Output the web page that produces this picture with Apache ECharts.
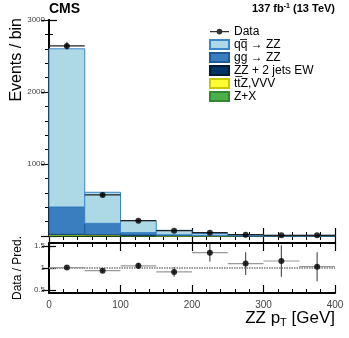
<!DOCTYPE html>
<html>
<head>
<meta charset="utf-8">
<script src="https://cdn.jsdelivr.net/npm/echarts@6/dist/echarts.min.js"></script>
<style>
  html, body { margin: 0; padding: 0; background: #fff; }
  #chart { width: 349px; height: 338px; }
</style>
</head>
<body>
<div id="chart"></div>
<script>
// bins of ZZ pT [GeV]
const binLo = [0, 50, 100, 150, 200, 250, 300, 350]
const binHi = [50, 100, 150, 200, 250, 300, 350, 400]

// expected events per bin, one array per process (bottom of stack first)
const zx     = [14, 11, 5, 2, 1, 0.5, 0.3, 0.2]
const ttzvvv = [6, 5, 4, 3, 2, 1, 0.6, 0.5]
const zzjjEW = [5, 5, 4, 3, 2, 1.5, 1, 1]
const ggZZ   = [378, 155, 34, 9, 4, 1.5, 0.7, 0.5]
const qqZZ   = [2197, 431, 166, 62, 25, 12, 6, 7.5]

// observed data
const dataCounts = [2640, 570, 213, 74, 46, 18, 10, 10]
const dataErr    = [51, 24, 15, 9, 7, 4, 3, 3]

// ratio panel
const ratioVals = [1.01, 0.94, 1.05, 0.91, 1.35, 1.10, 1.16, 1.03]
const ratioErr  = [0.02, 0.04, 0.07, 0.11, 0.20, 0.26, 0.36, 0.33]

const ratioTicks = [0.5, 1, 1.5]

const procs = [
  { name: 'Z+X',                 vals: zx,     color: '#4daf4a', border: '#2f8a2d' },
  { name: 'tt\u0305Z,VVV',       vals: ttzvvv, color: '#ffff33', border: '#c9c900' },
  { name: 'ZZ + 2 jets EW',      vals: zzjjEW, color: '#003366', border: '#001a33' },
  { name: 'gg \u2192 ZZ',        vals: ggZZ,   color: '#3a7ebf', border: '#1d5a96' },
  { name: 'qq\u0305 \u2192 ZZ',  vals: qqZZ,   color: '#add8e6', border: '#3d87c9' }
]

const font = 'Liberation Sans, Arial, Helvetica, sans-serif'
const chart = echarts.init(document.getElementById('chart'))

// stacked histogram rows: [lo, hi, bottom, top]
const cum = binLo.map(() => 0)
const stackSeries = procs.map(p => {
  const rows = binLo.map((lo, i) => {
    const b = cum[i]
    cum[i] += p.vals[i]
    return [lo, binHi[i], b, cum[i]]
  })
  return {
    name: p.name, type: 'custom', xAxisIndex: 0, yAxisIndex: 0,
    itemStyle: { color: p.color, borderColor: p.border, borderWidth: 1 },
    renderItem(params, api) {
      const a = api.coord([api.value(0), api.value(3)])
      const b = api.coord([api.value(1), api.value(2)])
      return {
        type: 'rect',
        shape: { x: a[0], y: a[1], width: b[0] - a[0], height: b[1] - a[1] },
        style: { fill: p.color, stroke: p.border, lineWidth: 1 }
      }
    },
    data: rows, z: 2
  }
})

function errBars(xi, yi, xs, ys, ex, ey, hColor, vColor) {
  return {
    type: 'custom', xAxisIndex: xi, yAxisIndex: yi, silent: true, z: 4,
    renderItem(params, api) {
      const x = api.value(0), y = api.value(1), dx = api.value(2), dy = api.value(3)
      const l = api.coord([x - dx, y]), r = api.coord([x + dx, y])
      const t = api.coord([x, y + dy]), b = api.coord([x, y - dy])
      return {
        type: 'group',
        children: [
          { type: 'line', shape: { x1: l[0], y1: l[1], x2: r[0], y2: r[1] }, style: { stroke: hColor, lineWidth: 1.2 } },
          { type: 'line', shape: { x1: t[0], y1: t[1], x2: b[0], y2: b[1] }, style: { stroke: vColor, lineWidth: 1.2 } }
        ]
      }
    },
    data: xs.map((x, i) => [x, ys[i], ex[i], ey[i]])
  }
}

const centers = binLo.map((lo, i) => (lo + binHi[i]) / 2)
const halfW = binLo.map((lo, i) => (binHi[i] - lo) / 2)

const axisLine = { show: true, lineStyle: { color: '#000', width: 2 } }
const tick = { show: true, inside: true, length: 8, lineStyle: { color: '#000', width: 1.2 } }
const minor = { show: true, splitNumber: 5, length: 4, lineStyle: { color: '#000', width: 1 } }

function xAx(grid, pos, labels) {
  return {
    type: 'value', gridIndex: grid, position: pos, min: 0, max: 400, interval: 100,
    axisLine, splitLine: { show: false }, axisTick: tick, minorTick: minor,
    axisLabel: { show: labels, color: '#444', fontSize: 10, fontFamily: font, margin: 7 }
  }
}

// legend marker for data: line with a filled dot (tiny corner specks fix the box to 20x9)
const dataIcon = 'path://M0,0h0.01v0.01h-0.01z M0,8.99h0.01v0.01h-0.01z M0,4h20v1.2h-20z M10,1.6a3,3 0 1,1 -0.001,0z'

chart.setOption({
  animation: false,
  grid: [
    { left: 49, top: 20, width: 286, height: 216 },
    { left: 49, top: 243, width: 286, height: 50 }
  ],
  legend: {
    orient: 'vertical', left: 209, top: 25, padding: 0, itemGap: 0,
    itemWidth: 19, itemHeight: 9,
    textStyle: { fontSize: 12, fontFamily: font, color: '#000', lineHeight: 13 },
    data: [
      { name: 'Data', icon: dataIcon },
      { name: procs[4].name, icon: 'rect' },
      { name: procs[3].name, icon: 'rect' },
      { name: procs[2].name, icon: 'rect' },
      { name: procs[1].name, icon: 'rect' },
      { name: procs[0].name, icon: 'rect' }
    ]
  },
  xAxis: [
    xAx(0, 'bottom', false), xAx(0, 'top', false),
    xAx(1, 'bottom', true), xAx(1, 'top', false)
  ],
  yAxis: [
    {
      type: 'value', gridIndex: 0, position: 'left', min: 0, max: 3000, interval: 1000,
      axisLine, splitLine: { show: false }, axisTick: tick, minorTick: minor,
      axisLabel: { showMinLabel: false, color: '#444', fontSize: 8, fontFamily: font, margin: 4, formatter: v => String(v) }
    },
    {
      type: 'value', gridIndex: 0, position: 'right', min: 0, max: 3000, interval: 1000,
      axisLine, splitLine: { show: false }, axisTick: tick, minorTick: minor,
      axisLabel: { show: false }
    },
    {
      type: 'value', gridIndex: 1, position: 'left', min: 0.43, max: 1.57,
      axisLine, splitLine: { show: false },
      axisTick: { show: true, inside: true, length: 7, customValues: ratioTicks, lineStyle: { color: '#000', width: 1.2 } },
      axisLabel: { customValues: ratioTicks, color: '#444', fontSize: 8, fontFamily: font, margin: 4, formatter: v => String(v) }
    },
    {
      type: 'value', gridIndex: 1, position: 'right', min: 0.43, max: 1.57,
      axisLine, splitLine: { show: false },
      axisTick: { show: true, inside: true, length: 7, customValues: ratioTicks, lineStyle: { color: '#000', width: 1.2 } },
      axisLabel: { show: false }
    }
  ],
  series: [
    ...stackSeries,
    errBars(0, 0, centers, dataCounts, halfW, dataErr, '#222', '#222'),
    {
      name: 'Data', type: 'scatter', xAxisIndex: 0, yAxisIndex: 0, z: 5,
      symbol: 'circle', symbolSize: 6, itemStyle: { color: '#000' },
      data: centers.map((x, i) => [x, dataCounts[i]])
    },
    {
      type: 'line', xAxisIndex: 2, yAxisIndex: 2, symbol: 'none', silent: true, z: 3,
      lineStyle: { color: '#999', width: 2, type: [1.5, 1] },
      data: [[0, 1], [400, 1]]
    },
    errBars(2, 2, centers, ratioVals, halfW, ratioErr, '#999', '#555'),
    {
      type: 'scatter', xAxisIndex: 2, yAxisIndex: 2, z: 5,
      symbol: 'circle', symbolSize: 6, itemStyle: { color: '#000' },
      data: centers.map((x, i) => [x, ratioVals[i]])
    }
  ],
  graphic: [
    { type: 'text', left: 49, top: 2, style: { text: 'CMS', font: 'bold 14px ' + font, fill: '#000' } },
    {
      type: 'text', right: 14, top: 3,
      style: {
        text: '137 fb{sup|-1} (13 TeV)', font: 'bold 11px ' + font, fill: '#000',
        rich: { sup: { font: 'bold 7px ' + font, verticalAlign: 'top', padding: [0, 0, 5, 0] } }
      }
    },
    {
      type: 'text', x: 17, y: 18, rotation: Math.PI / 2,
      style: { text: 'Events / bin', font: '16px ' + font, fill: '#000', align: 'right', verticalAlign: 'middle' }
    },
    {
      type: 'text', x: 18, y: 268, rotation: Math.PI / 2,
      style: { text: 'Data / Pred.', font: '12px ' + font, fill: '#000', align: 'center', verticalAlign: 'middle' }
    },
    {
      type: 'text', right: 14, top: 310,
      style: {
        text: 'ZZ p{sub|T} [GeV]', font: '17px ' + font, fill: '#000',
        rich: { sub: { font: '11px ' + font, padding: [8, 0, 0, 0] } }
      }
    }
  ]
})
</script>
</body>
</html>
